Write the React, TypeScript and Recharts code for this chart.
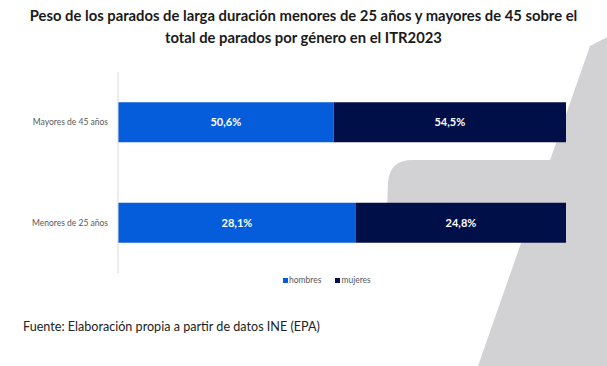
import React from "react";
import { BarChart, Bar, XAxis, YAxis, LabelList } from "recharts";

const categories = ["Mayores de 45 años", "Menores de 25 años"];
const hombres = [50.6, 28.1];
const mujeres = [54.5, 24.8];

const HOMBRES_COLOR = "#065ddb";
const MUJERES_COLOR = "#010f48";

const data = categories.map((name, i) => ({
    name,
    hombres: hombres[i],
    mujeres: mujeres[i]
}));

const fmt = (v: any) => `${String(v).replace(".", ",")}%`;

const FONT = "Lato, 'Open Sans', sans-serif";

const CategoryTick = (props: any) => {
    const { x, y, payload } = props;
    return (
        <text x={x} y={y} dy={3} textAnchor="end" fontSize={8.5} fill="#595959" fontFamily={FONT}>
            {payload.value}
        </text>
    );
};

const Watermark: React.FC = () => (
    <svg width={607} height={366} style={{ position: "absolute", left: 0, top: 0 }}>
        <path
            d="M 590 46 L 640 20 L 640 366 L 478 366 Z"
            fill="#d2d2d4"
        />
        <path
            d="M 412 160 L 560 160 L 560 235 L 386 235 L 388 182 Q 390 160 412 160 Z"
            fill="#d2d2d4"
        />
    </svg>
);

const App: React.FC = () => {
    return (
        <div style={{ position: "absolute", left: 0, top: 0, width: 607, height: 366, background: "#fff", fontFamily: FONT, overflow: "hidden" }}>
            <Watermark />
            <div style={{ position: "absolute", left: 0, top: 4, width: 607, textAlign: "center", fontWeight: 700, fontSize: 14.8, lineHeight: "22px", color: "#1a1a1a" }}>
                Peso de los parados de larga duración menores de 25 años y mayores de 45 sobre el
                <br />
                total de parados por género en el ITR2023
            </div>
            <div style={{ position: "absolute", left: 0, top: 0 }}>
                <BarChart
                    width={607}
                    height={300}
                    data={data}
                    layout="vertical"
                    stackOffset="expand"
                    barCategoryGap="30%"
                    margin={{ top: 72, right: 41, bottom: 27, left: 0 }}
                >
                    <XAxis type="number" hide domain={[0, 1]} />
                    <YAxis
                        type="category"
                        dataKey="name"
                        width={118}
                        tickLine={false}
                        axisLine={{ stroke: "#d9d9d9" }}
                        tick={<CategoryTick />}
                        tickMargin={4}
                    />
                    <Bar dataKey="hombres" stackId="a" fill={HOMBRES_COLOR} isAnimationActive={false}>
                        <LabelList dataKey="hombres" position="center" formatter={fmt} fill="#fff" fontSize={11} fontWeight={700} fontFamily={FONT} />
                    </Bar>
                    <Bar dataKey="mujeres" stackId="a" fill={MUJERES_COLOR} isAnimationActive={false}>
                        <LabelList dataKey="mujeres" position="center" formatter={fmt} fill="#fff" fontSize={11} fontWeight={700} fontFamily={FONT} />
                    </Bar>
                </BarChart>
            </div>
            <div style={{ position: "absolute", left: 283, top: 275, display: "flex", alignItems: "center", fontSize: 8.5, color: "#595959" }}>
                <span style={{ width: 5, height: 5, background: HOMBRES_COLOR, display: "inline-block", marginRight: 1 }} />
                <span style={{ marginRight: 14 }}>hombres</span>
                <span style={{ width: 5, height: 5, background: MUJERES_COLOR, display: "inline-block", marginRight: 1 }} />
                <span>mujeres</span>
            </div>
            <div style={{ position: "absolute", left: 23, top: 319, fontSize: 12.6, color: "#222" }}>
                Fuente: Elaboración propia a partir de datos INE (EPA)
            </div>
        </div>
    );
};

export default App;
